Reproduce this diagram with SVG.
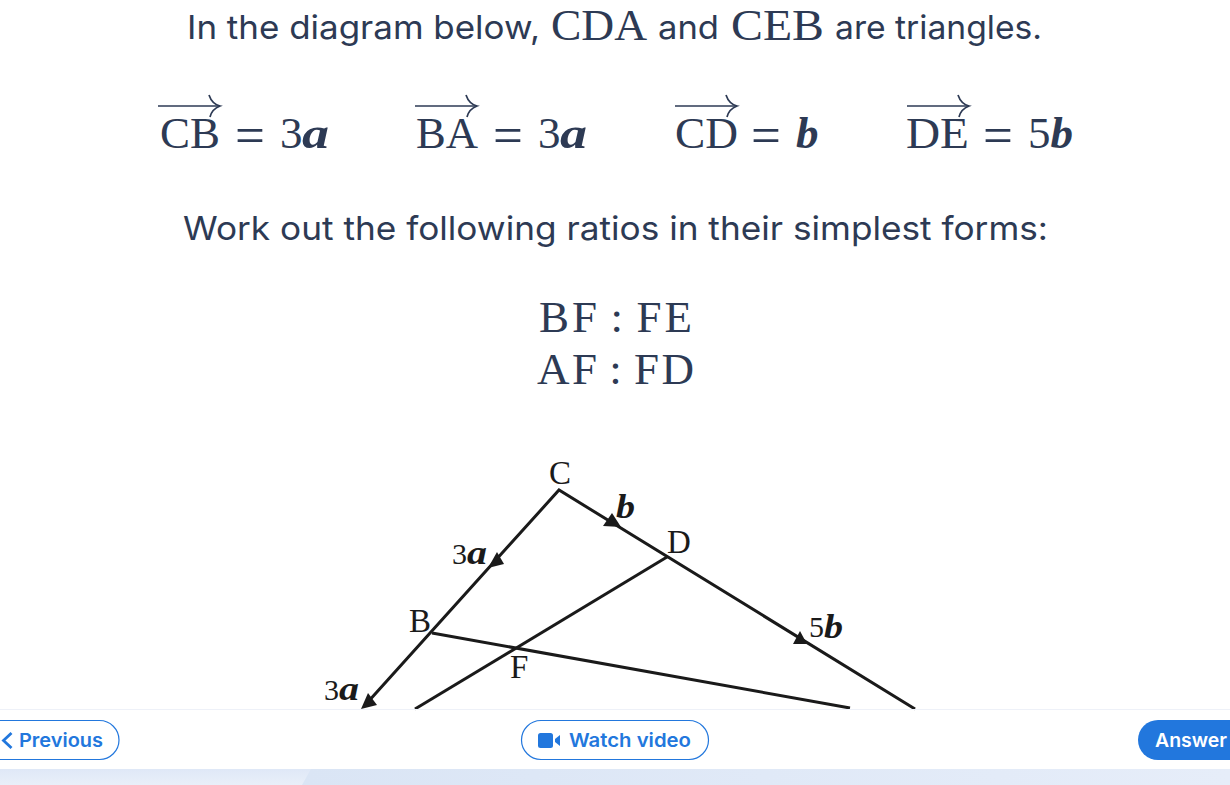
<svg xmlns="http://www.w3.org/2000/svg" width="1230" height="785" viewBox="0 0 1230 785">
<style>
.t{font-family:"Inter","Noto Sans",sans-serif;font-size:33px;fill:#2d3a54}
.m{font-family:"Liberation Serif",serif;fill:#2d3a54;font-size:45px}
.eq{font-size:53px}
.bi{font-family:"Liberation Serif",serif;font-weight:bold;font-style:italic}
.arr{fill:none;stroke:#2d3a54;stroke-width:1.7}
.ln{stroke:#1a1a1a;stroke-width:3;fill:none}
.lab{font-family:"Liberation Serif",serif;font-size:33px;fill:#1a1a1a}
.bl{font-size:33px}
.n{font-family:"Liberation Serif",serif;font-size:30px;fill:#1a1a1a}
.ah{fill:#1a1a1a}
.btn{fill:#fff;stroke:#2277dd;stroke-width:1.2}
.bt{font-family:"Inter","Noto Sans",sans-serif;font-size:19px;font-weight:600;fill:#2277dd}
</style>
<defs>
<g id="vec"><path class="arr" d="M0 0H62"/><path class="arr" d="M51-11Q54-2 62 0Q54 3 52 11"/></g>
<linearGradient id="f" x1="0" y1="0" x2="0" y2="1"><stop offset="0" stop-color="#dfe8f7"/><stop offset="1" stop-color="#e9eff9"/></linearGradient>
<linearGradient id="g" x1="0" y1="0" x2="1" y2="0"><stop offset="0" stop-color="#dae5f5"/><stop offset="1" stop-color="#e6edf9"/></linearGradient>
</defs>
<rect width="1230" height="785" fill="#fff"/>
<g id="question">
<text class="t" x="187" y="39" textLength="353" lengthAdjust="spacingAndGlyphs">In the diagram below,</text>
<text class="m" x="551" y="40" textLength="96" lengthAdjust="spacingAndGlyphs">CDA</text>
<text class="t" x="658" y="39" textLength="61" lengthAdjust="spacingAndGlyphs">and</text>
<text class="m" x="731" y="40" textLength="93" lengthAdjust="spacingAndGlyphs">CEB</text>
<text class="t" x="835" y="39" textLength="207" lengthAdjust="spacingAndGlyphs">are triangles.</text>
<use href="#vec" x="158" y="106"/>
<text class="m" x="160" y="148" textLength="60" lengthAdjust="spacingAndGlyphs">CB</text>
<text class="m eq" x="235" y="153">=</text>
<text class="m" x="280" y="148">3</text><text class="m bi" x="302" y="148" textLength="27" lengthAdjust="spacingAndGlyphs">a</text>
<use href="#vec" x="415" y="106"/>
<text class="m" x="416" y="148" textLength="62" lengthAdjust="spacingAndGlyphs">BA</text>
<text class="m eq" x="493" y="153">=</text>
<text class="m" x="538" y="148">3</text><text class="m bi" x="560" y="148" textLength="27" lengthAdjust="spacingAndGlyphs">a</text>
<use href="#vec" x="675" y="106"/>
<text class="m" x="675" y="148" textLength="63" lengthAdjust="spacingAndGlyphs">CD</text>
<text class="m eq" x="751" y="153">=</text>
<text class="m bi" x="796" y="148">b</text>
<use href="#vec" x="907" y="106"/>
<text class="m" x="906" y="148" textLength="63" lengthAdjust="spacingAndGlyphs">DE</text>
<text class="m eq" x="983" y="153">=</text>
<text class="m" x="1028" y="148">5<tspan class="bi">b</tspan></text>
<text class="t" x="183" y="240" textLength="865" lengthAdjust="spacingAndGlyphs">Work out the following ratios in their simplest forms:</text>
<text class="m" x="539" y="332" textLength="153" lengthAdjust="spacing" word-spacing="-4">BF : FE</text>
<text class="m" x="537" y="384" textLength="157" lengthAdjust="spacing" word-spacing="-4">AF : FD</text>
</g>
<g id="connectors">
<path class="ln" d="M367 703L559 490L915 709"/>
<path class="ln" d="M432 633L850 708"/>
<path class="ln" d="M667 557L415 709"/>
<polygon class="ah" points="488,568 504,564 497,552"/>
<polygon class="ah" points="361,709 377,705 368,693"/>
<polygon class="ah" points="603,526 621,527 612,513"/>
<polygon class="ah" points="793,644 807,644 800,631"/>
</g>
<g id="node-C"><text class="lab" x="549" y="484">C</text></g>
<g id="node-D"><text class="lab" x="667" y="553">D</text></g>
<g id="node-B"><text class="lab" x="409" y="632">B</text></g>
<g id="node-F"><text class="lab" x="510" y="678">F</text></g>
<g id="label-b"><text class="lab bi bl" x="616" y="518" textLength="19" lengthAdjust="spacingAndGlyphs">b</text></g>
<g id="label-3a-upper"><text class="n" x="452" y="564">3</text><text class="lab bi bl" x="467" y="564" textLength="20" lengthAdjust="spacingAndGlyphs">a</text></g>
<g id="label-5b"><text class="n" x="809" y="637">5</text><text class="lab bi bl" x="824" y="638" textLength="19" lengthAdjust="spacingAndGlyphs">b</text></g>
<g id="label-3a-lower"><text class="n" x="324" y="700">3</text><text class="lab bi bl" x="339" y="700" textLength="20" lengthAdjust="spacingAndGlyphs">a</text></g>
<g id="footer">
<rect y="709" width="1230" height="1" fill="#eef1f8"/>
<rect y="769" width="1230" height="16" fill="url(#f)"/>
<polygon points="311,769 1230,769 1230,785 302,785" fill="url(#g)"/>
</g>
<g id="btn-previous">
<rect class="btn" x="-30" y="720.5" width="149" height="39" rx="19.5"/>
<path d="M11.5 733L3.500 740.500L11.500 748" fill="none" stroke="#2277dd" stroke-width="2.800"/>
<text class="bt" x="19" y="747" textLength="84" lengthAdjust="spacingAndGlyphs">Previous</text>
</g>
<g id="btn-video">
<rect class="btn" x="521.500" y="720.500" width="187" height="39" rx="19.500"/>
<rect x="538" y="733" width="15" height="15" rx="2.500" fill="#2277dd"/>
<path d="M555 739L560 735V746L555 742Z" fill="#2277dd"/>
<text class="bt" x="569" y="747" textLength="122" lengthAdjust="spacingAndGlyphs">Watch video</text>
</g>
<g id="btn-answer">
<rect x="1138" y="720" width="130" height="40" rx="20" fill="#2277dd"/>
<text class="bt" x="1155" y="747" textLength="72" lengthAdjust="spacingAndGlyphs" style="fill:#fff">Answer</text>
</g>
</svg>
